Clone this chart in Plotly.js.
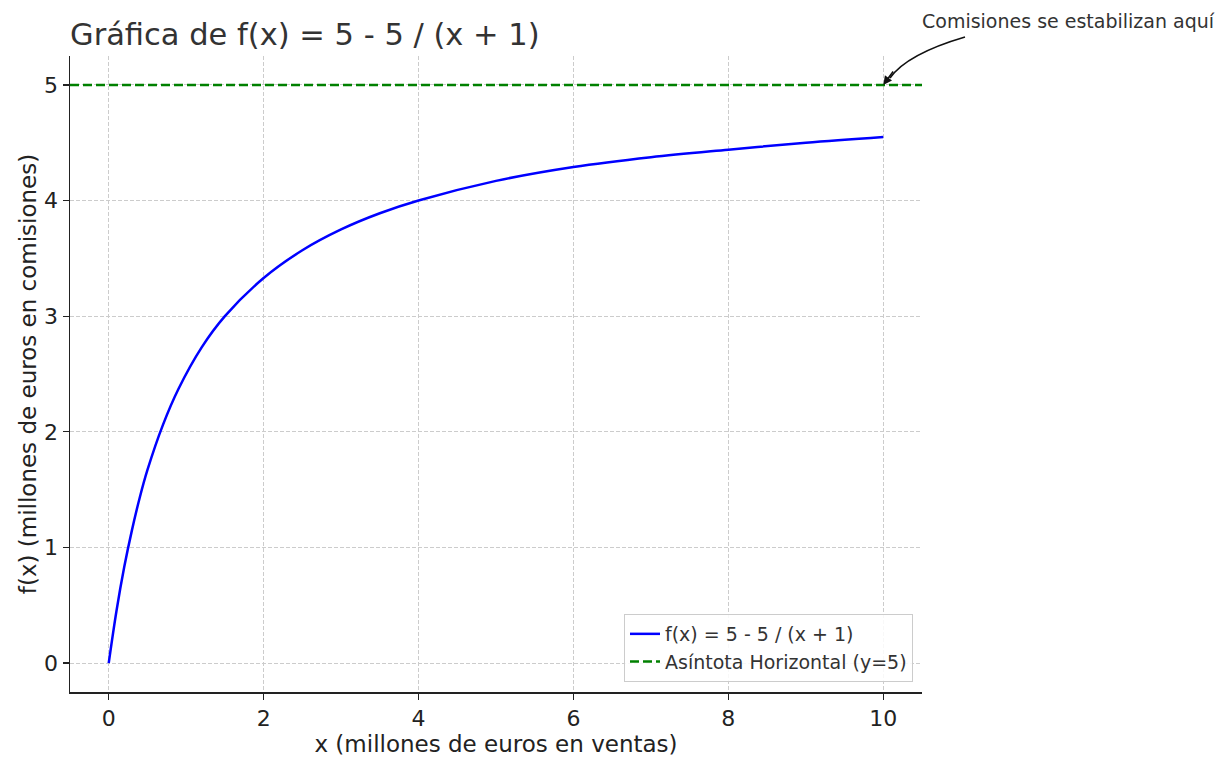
<!DOCTYPE html>
<html>
<head>
<meta charset="utf-8">
<script src="https://cdn.plot.ly/plotly-3.0.1.min.js"></script>
<style>html,body{margin:0;padding:0;background:#fff;}#chart{width:1230px;height:768px;}</style>
</head>
<body>
<div id="chart"></div>
<script>
// Values
const salesX = [0, 0.1, 0.2, 0.3, 0.4, 0.5, 0.7, 0.9, 1.2, 1.5, 2, 2.5, 3, 3.5, 4, 5, 6, 7, 8, 9, 10];
const commissionY = [0, 0.45, 0.83, 1.15, 1.43, 1.67, 2.06, 2.37, 2.73, 3.0, 3.33, 3.57, 3.75, 3.89, 4.0, 4.17, 4.29, 4.375, 4.44, 4.5, 4.55];
const asymptoteX = [-0.5, 10.5];
const asymptoteY = [5, 5];
const xTicks = [0, 2, 4, 6, 8, 10];
const yTicks = [0, 1, 2, 3, 4, 5];
const curveName = 'f(x) = 5 - 5 / (x + 1)';
const asymName = 'Asíntota Horizontal (y=5)';
const titleText = 'Gráfica de f(x) = 5 - 5 / (x + 1)';
const xLabel = 'x (millones de euros en ventas)';
const yLabel = 'f(x) (millones de euros en comisiones)';
const noteText = 'Comisiones se estabilizan aquí';
const notePoint = [10, 5];

const FONT = 'DejaVu Sans, sans-serif';
const L = 70, R = 922, T = 56, B = 692;
const W = R - L, H = B - T;
const px = v => (v - L) / W;
const py = v => (B - v) / H;

const traces = [
  {x: salesX, y: commissionY, mode: 'lines', name: curveName,
   line: {color: '#0000ff', width: 2.5, shape: 'spline'}},
  {x: asymptoteX, y: asymptoteY, mode: 'lines', name: asymName,
   line: {color: '#008000', width: 2.5, dash: '9px,4px'}}
];

const axisCommon = {
  showline: true, linecolor: '#222', linewidth: 1.5,
  ticks: 'outside', ticklen: 6, tickwidth: 1.3, tickcolor: '#222',
  showgrid: true, gridcolor: '#cccccc', griddash: '4px,2px', gridwidth: 1,
  zeroline: false, mirror: false,
  tickfont: {family: FONT, size: 22, color: '#222'}
};

const layout = {
  width: 1230, height: 768,
  margin: {l: L, r: 1230 - R, t: T, b: 768 - B},
  paper_bgcolor: '#fff', plot_bgcolor: '#fff',
  font: {family: FONT, color: '#333'},
  title: {text: titleText, x: px(70), xanchor: 'left', xref: 'paper',
          y: 1, yref: 'paper', yanchor: 'bottom', pad: {b: 11},
          font: {family: FONT, size: 30.5, color: '#333'}},
  xaxis: Object.assign({}, axisCommon, {
    range: [-0.5, 10.5], tickvals: xTicks, ticktext: xTicks.map(String),
    title: {text: xLabel, font: {family: FONT, size: 23, color: '#222'}, standoff: 3}
  }),
  yaxis: Object.assign({}, axisCommon, {
    range: [-0.25, 5.25], tickvals: yTicks, ticktext: yTicks.map(String),
    title: {text: yLabel, font: {family: FONT, size: 23, color: '#222'}, standoff: 1}
  }),
  showlegend: true,
  legend: {x: px(913), xanchor: 'right', y: py(682), yanchor: 'bottom',
           bgcolor: 'rgba(255,255,255,0.85)', bordercolor: '#cccccc', borderwidth: 1,
           font: {family: FONT, size: 19, color: '#333'}, tracegroupgap: 0},
  annotations: [
    {xref: 'paper', yref: 'paper', x: px(1068), y: py(21), text: noteText,
     showarrow: false, xanchor: 'center', yanchor: 'middle',
     font: {family: FONT, size: 19, color: '#333'}},
    {xref: 'x', yref: 'y', x: notePoint[0], y: notePoint[1], text: '',
     showarrow: true, arrowhead: 2, arrowsize: 1.1, arrowwidth: 1.6, arrowcolor: '#111',
     axref: 'pixel', ayref: 'pixel', ax: 11, ay: -15, standoff: 0}
  ],
  shapes: [
    {type: 'path', xref: 'paper', yref: 'paper',
     path: 'M ' + px(965) + ',' + py(37) + ' Q ' + px(907) + ',' + py(54) + ' ' + px(890) + ',' + py(78),
     line: {color: '#111', width: 1.6}}
  ]
};

Plotly.newPlot('chart', traces, layout, {displayModeBar: false, staticPlot: true});
</script>
</body>
</html>
